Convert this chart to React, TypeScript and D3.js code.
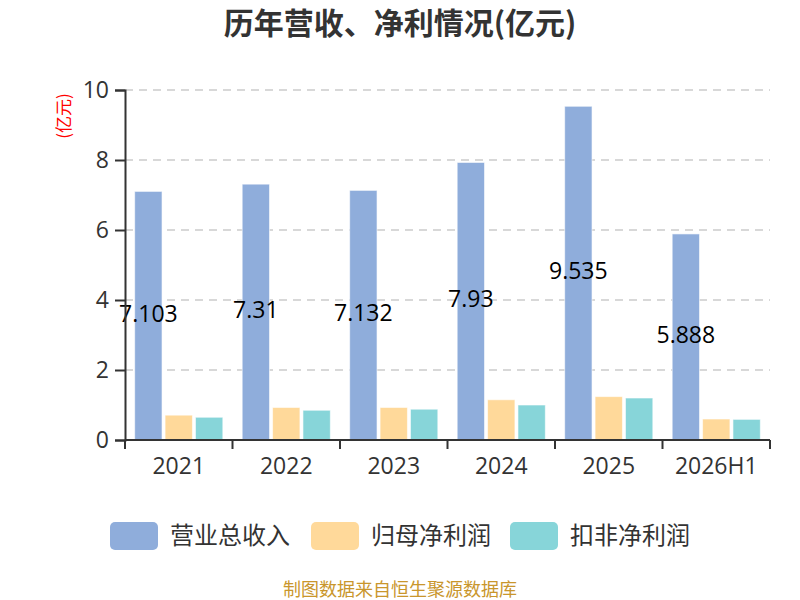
import { useEffect, useRef } from "react"
import * as d3 from "d3"

const years = ["2021", "2022", "2023", "2024", "2025", "2026H1"]
const revenue = [7.103, 7.31, 7.132, 7.93, 9.535, 5.888]
const netProfit = [0.71, 0.93, 0.93, 1.15, 1.24, 0.6]
const deductedProfit = [0.65, 0.85, 0.88, 1.0, 1.2, 0.59]
const seriesNames = ["营业总收入", "归母净利润", "扣非净利润"]
const seriesColors = ["#8FADDB", "#FFD99A", "#87D5D9"]
const yTicks = [0, 2, 4, 6, 8, 10]

const FONT = "'Open Sans', 'Noto Sans CJK SC', sans-serif"
const CJK = "'Noto Sans CJK SC', sans-serif"

export default function App() {
  const svgRef = useRef<SVGSVGElement>(null)

  useEffect(() => {
    const svg = d3.select(svgRef.current)
    svg.selectAll("*").remove()

    const width = 800
    const height = 600
    const margin = { top: 90, right: 30, bottom: 160, left: 125 }
    const innerW = width - margin.left - margin.right
    const innerH = height - margin.top - margin.bottom

    svg.append("rect").attr("width", width).attr("height", height).attr("fill", "#fff")

    // Title
    svg.append("text")
      .attr("x", width / 2)
      .attr("y", 34)
      .attr("text-anchor", "middle")
      .attr("font-family", CJK)
      .attr("font-weight", "bold")
      .attr("font-size", 30)
      .attr("fill", "#333")
      .text("历年营收、净利情况(亿元)")

    const x = d3.scaleBand<string>().domain(years).range([0, innerW])
    const bw = x.bandwidth()
    const xs = d3.scaleBand<number>()
      .domain([0, 1, 2])
      .range([bw * 0.09, bw * 0.91])
      .paddingInner(0.1)
    const y = d3.scaleLinear().domain([0, 10]).range([innerH, 0])

    const g = svg.append("g").attr("transform", `translate(${margin.left},${margin.top})`)

    // Grid lines
    g.append("g")
      .selectAll("line")
      .data(yTicks.filter((t) => t > 0))
      .enter()
      .append("line")
      .attr("x1", 0)
      .attr("x2", innerW)
      .attr("y1", (d) => y(d))
      .attr("y2", (d) => y(d))
      .attr("stroke", "#ccc")
      .attr("stroke-width", 1.5)
      .attr("stroke-dasharray", "8,6")

    // Bars
    const series = [revenue, netProfit, deductedProfit]
    series.forEach((vals, si) => {
      g.append("g")
        .selectAll("rect")
        .data(vals)
        .enter()
        .append("rect")
        .attr("x", (d, i) => (x(years[i]) as number) + (xs(si) as number))
        .attr("y", (d) => y(d))
        .attr("width", xs.bandwidth())
        .attr("height", (d) => innerH - y(d))
        .attr("fill", seriesColors[si])
        .attr("stroke", "#fff")
        .attr("stroke-opacity", 0.6)
        .attr("stroke-width", 1)
    })

    // Revenue labels at bar middle
    g.append("g")
      .selectAll("text")
      .data(revenue)
      .enter()
      .append("text")
      .attr("x", (d, i) => (x(years[i]) as number) + (xs(0) as number) + xs.bandwidth() / 2)
      .attr("y", (d) => (y(d) + innerH) / 2 - 2)
      .attr("dy", "0.35em")
      .attr("text-anchor", "middle")
      .attr("font-family", FONT)
      .attr("font-size", 23)
      .attr("fill", "#000")
      .text((d) => String(d))

    // Y axis
    const yAxis = g.append("g").call(d3.axisLeft(y).tickValues(yTicks).tickSize(10).tickPadding(6))
    yAxis.select(".domain").attr("stroke", "#333").attr("stroke-width", 2)
    yAxis.selectAll(".tick line").attr("stroke", "#333").attr("stroke-width", 2)
    yAxis.selectAll(".tick text")
      .attr("font-family", FONT)
      .attr("font-size", 23)
      .attr("fill", "#333")

    // X axis with ticks at band boundaries
    const xAxisG = g.append("g").attr("transform", `translate(0,${innerH})`)
    xAxisG.append("line")
      .attr("x1", 0)
      .attr("x2", innerW)
      .attr("stroke", "#333")
      .attr("stroke-width", 2)
    const bounds = years.map((yr) => x(yr) as number).concat([innerW])
    xAxisG.selectAll(".bt")
      .data(bounds)
      .enter()
      .append("line")
      .attr("x1", (d) => d)
      .attr("x2", (d) => d)
      .attr("y1", 0)
      .attr("y2", 9)
      .attr("stroke", "#333")
      .attr("stroke-width", 2)
    xAxisG.selectAll(".lbl")
      .data(years)
      .enter()
      .append("text")
      .attr("x", (d) => (x(d) as number) + bw / 2)
      .attr("y", 34)
      .attr("text-anchor", "middle")
      .attr("font-family", FONT)
      .attr("font-size", 23)
      .attr("fill", "#333")
      .text((d) => d)

    // Y axis unit label
    svg.append("text")
      .attr("transform", `translate(70,116) rotate(-90)`)
      .attr("text-anchor", "middle")
      .attr("font-family", CJK)
      .attr("font-size", 17)
      .attr("fill", "#f00")
      .text("(亿元)")

    // Legend
    const legendX = [110, 311, 510]
    const legend = svg.append("g")
    seriesNames.forEach((name, i) => {
      legend.append("rect")
        .attr("x", legendX[i])
        .attr("y", 522)
        .attr("width", 48)
        .attr("height", 28)
        .attr("rx", 5)
        .attr("fill", seriesColors[i])
      legend.append("text")
        .attr("x", legendX[i] + 60)
        .attr("y", 536)
        .attr("dy", "0.35em")
        .attr("font-family", CJK)
        .attr("font-size", 24)
        .attr("fill", "#333")
        .text(name)
    })

    // Footer
    svg.append("text")
      .attr("x", width / 2)
      .attr("y", 596)
      .attr("text-anchor", "middle")
      .attr("font-family", CJK)
      .attr("font-size", 18)
      .attr("fill", "#C9962C")
      .text("制图数据来自恒生聚源数据库")
  }, [])

  return (
    <svg
      ref={svgRef}
      width={800}
      height={600}
      style={{ position: "absolute", left: 0, top: 0, display: "block" }}
    />
  )
}
